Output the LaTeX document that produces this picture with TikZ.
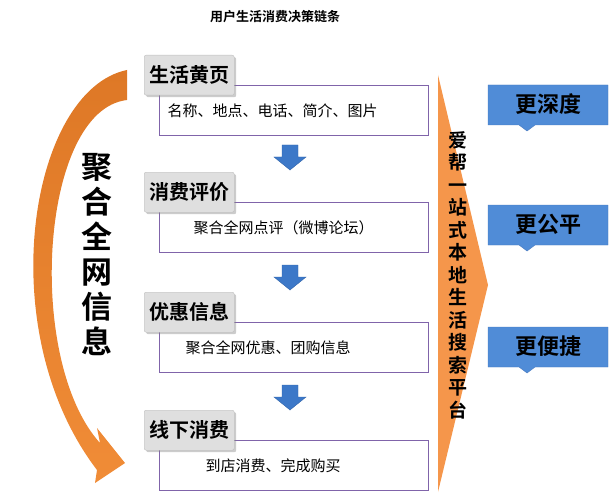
\documentclass[tikz,border=0pt]{standalone}
\usepackage{fontspec}
\newfontfamily\cjk{Noto Sans CJK SC}
\newfontfamily\cjkb{Noto Sans CJK SC Bold}
\usetikzlibrary{shadows}
\definecolor{purp}{RGB}{128,100,170}
\definecolor{blueA}{RGB}{80,140,215}
\definecolor{blueB}{RGB}{70,120,190}
\definecolor{darrA}{RGB}{60,120,200}
\definecolor{darrB}{RGB}{50,100,170}
\definecolor{orA}{RGB}{222,120,38}
\definecolor{orB}{RGB}{240,140,55}
\definecolor{wedge}{RGB}{245,150,75}
\begin{document}
\begin{tikzpicture}[x=1pt,y=-1pt,
  hdr/.style={draw=gray!50,fill=gray!25,rounded corners=2pt,font=\cjkb\fontsize{20}{20}\selectfont,minimum height=40,inner xsep=5,anchor=north west,drop shadow={shadow xshift=2pt,shadow yshift=-2pt,opacity=0.4}},
  cbox/.style={draw=purp,line width=1.2pt,fill=white,minimum width=269,minimum height=50,anchor=north west,font=\cjk\fontsize{15}{15}\selectfont,inner xsep=8,text width=253},
  bar/.style={fill=blueA,draw=blueB},
  darr/.style={fill=darrA,draw=darrB}]
\useasboundingbox (0,0) rectangle (613,500);
\node (title) at (275,17) {\cjkb\fontsize{13}{13}\selectfont 用户生活消费决策链条};
% curved arrow
\shade[top color=orA,bottom color=orB]
 (127,70) .. controls (30,90) and (-10,330) .. (97,470) -- (95,483) -- (125,463) -- (97,428) -- (100,443) .. controls (25,360) and (40,110) .. (127,100) -- cycle;
\node[align=center,font=\cjkb\fontsize{31}{35}\selectfont] (lt) at (97,255) {聚\\合\\全\\网\\信\\息};
% wedge
\fill[wedge] (438,75) -- (488,285) -- (438,492) -- cycle;
\node[align=center,font=\cjkb\fontsize{19}{22.5}\selectfont] (wt) at (458,275) {爱\\帮\\一\\站\\式\\本\\地\\生\\活\\搜\\索\\平\\台};
% rows
\foreach \n/\h/\c/\hy/\by/\ind in {a/生活黄页/{名称、地点、电话、简介、图片}/55/85/0, b/消费评价/{聚合全网点评（微博论坛）}/172/202/26, c/优惠信息/{聚合全网优惠、团购信息}/292/322/18, d/线下消费/{到店消费、完成购买}/410/440/38}{
  \node[cbox] (\n c) at (159,\by) {\hspace*{\ind pt}\c};
  \node[hdr] (\n h) at (144,\hy) {\h};
}
\foreach \y/\nm in {145/da,265/db,385/dc}{
  \path[darr] (282,\y) -- (298,\y) -- (298,\y+12) -- (306,\y+12) -- (290,\y+25) -- (274,\y+12) -- (282,\y+12) -- cycle;
  \coordinate (\nm) at (290,\y);
}
% right bars
\foreach \y/\t/\nm in {85/更深度/r1, 205/更公平/r2, 327/更便捷/r3}{
  \path[bar] (488,\y) -- (608,\y) -- (608,\y+40) -- (535,\y+40) -- (527,\y+46) -- (519,\y+40) -- (488,\y+40) -- cycle;
  \node[font=\cjkb\fontsize{22}{22}\selectfont] (\nm) at (548,\y+19) {\t};
}
\end{tikzpicture}
\end{document}
